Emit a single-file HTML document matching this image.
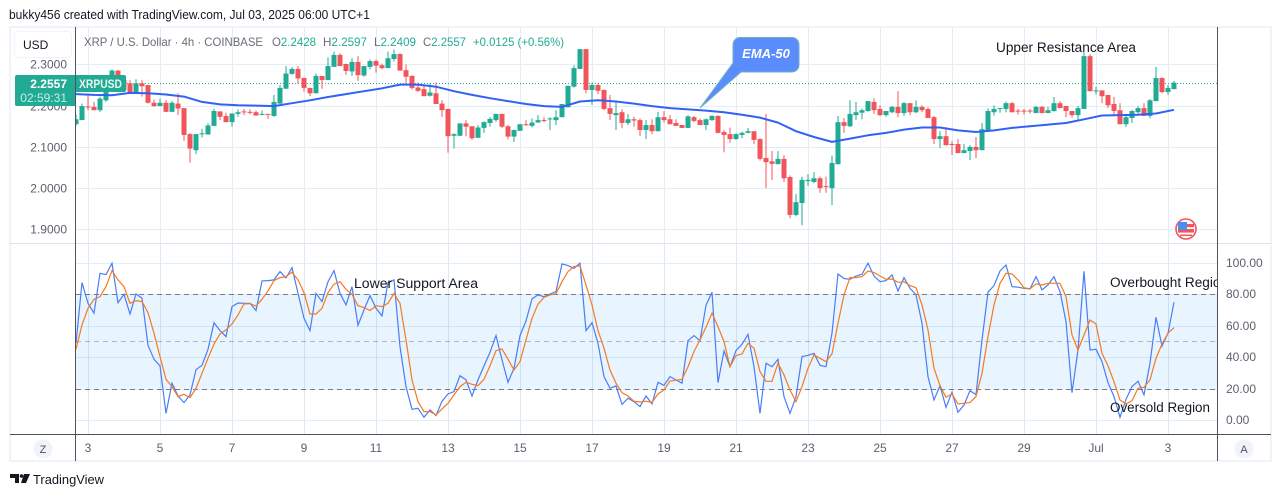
<!DOCTYPE html>
<html>
<head>
<meta charset="utf-8">
<title>XRP / U.S. Dollar 4h chart</title>
<style>
html,body{margin:0;padding:0;background:#fff;width:1281px;height:497px;overflow:hidden}
svg{display:block;font-family:"Liberation Sans",sans-serif}
</style>
</head>
<body>
<svg id="chart" xmlns="http://www.w3.org/2000/svg" width="1281" height="497" viewBox="0 0 1281 497">
  <defs>
    <clipPath id="plot-clip"><rect x="76" y="28" width="1141" height="406"/></clipPath>
  </defs>
  <rect x="0" y="0" width="1281" height="497" fill="#ffffff"/>
  <text x="9" y="19" font-size="12.5" fill="#131722" textLength="361" lengthAdjust="spacingAndGlyphs">bukky456 created with TradingView.com, Jul 03, 2025 06:00 UTC+1</text>
  <rect x="10" y="27" width="1261" height="434" fill="#ffffff" stroke="#f0f3fa" stroke-width="2"/>
  <g id="grid"></g>
  <rect id="osc-band" x="76" width="1141" fill="#2196f3" fill-opacity="0.1"/>
  <g id="osc-refs"></g>
  <line id="last-price-line" x1="76" x2="1217" stroke="#22ab94" stroke-width="1" stroke-dasharray="1 2"/>
  <g id="candles" clip-path="url(#plot-clip)"></g>
  <polyline id="ema-line" clip-path="url(#plot-clip)" fill="none" stroke="#2f62f5" stroke-width="2" stroke-linejoin="round"/>
  <polyline id="k-line" clip-path="url(#plot-clip)" fill="none" stroke="#4a7df5" stroke-width="1.2"/>
  <polyline id="d-line" clip-path="url(#plot-clip)" fill="none" stroke="#f57a20" stroke-width="1.2"/>

  <line x1="10" x2="1271" y1="243.5" y2="243.5" stroke="#e0e3eb" stroke-width="1"/>
  <line x1="10" x2="1271" y1="434.5" y2="434.5" stroke="#50535e" stroke-width="1"/>
  <line x1="75.5" x2="75.5" y1="27" y2="461" stroke="#50535e" stroke-width="1"/>
  <line x1="1217.5" x2="1217.5" y1="27" y2="461" stroke="#50535e" stroke-width="1"/>

  <g id="price-labels"></g>
  <g id="osc-labels"></g>
  <g id="time-labels"></g>

  <g>
    <rect x="14.5" y="31.5" width="57" height="26" rx="4" fill="#ffffff" stroke="#f0f3fa"/>
    <text x="23" y="49" font-size="12" fill="#131722">USD</text>
  </g>

  <g font-size="12">
    <text x="84" y="46" fill="#6a6d78" textLength="179" lengthAdjust="spacingAndGlyphs">XRP / U.S. Dollar · 4h · COINBASE</text>
    <text x="272" y="46" fill="#6a6d78" textLength="44" lengthAdjust="spacingAndGlyphs">O<tspan fill="#22ab94">2.2428</tspan></text>
    <text x="323" y="46" fill="#6a6d78" textLength="44" lengthAdjust="spacingAndGlyphs">H<tspan fill="#22ab94">2.2597</tspan></text>
    <text x="374" y="46" fill="#6a6d78" textLength="42" lengthAdjust="spacingAndGlyphs">L<tspan fill="#22ab94">2.2409</tspan></text>
    <text x="423" y="46" fill="#6a6d78" textLength="43" lengthAdjust="spacingAndGlyphs">C<tspan fill="#22ab94">2.2557</tspan></text>
    <text x="473" y="46" fill="#22ab94" textLength="91" lengthAdjust="spacingAndGlyphs">+0.0125 (+0.56%)</text>
  </g>

  <g>
    <path d="M17 75H75V106H17a2 2 0 0 1-2-2V77a2 2 0 0 1 2-2z" fill="#22ab94"/>
    <path d="M76 75H124a2 2 0 0 1 2 2V90a2 2 0 0 1-2 2H76z" fill="#22ab94"/>
    <text x="67" y="88" font-size="12" font-weight="bold" fill="#ffffff" text-anchor="end">2.2557</text>
    <text x="67" y="102" font-size="12" fill="#c8ece6" text-anchor="end">02:59:31</text>
    <text x="79" y="88" font-size="12" font-weight="bold" fill="#e8f7f4" textLength="43" lengthAdjust="spacingAndGlyphs">XRPUSD</text>
  </g>

  <g>
    <path d="M740 37.5H792a7 7 0 0 1 7 7V65a7 7 0 0 1-7 7H741L700 108L733 63V44.5a7 7 0 0 1 7-7z" fill="#5b8cfb" stroke="#6fb0c4" stroke-width="1"/>
    <text x="766" y="58" font-size="13" font-weight="bold" font-style="italic" fill="#ffffff" text-anchor="middle">EMA-50</text>
  </g>
  <text x="996" y="52" font-size="13.5" fill="#131722" textLength="140" lengthAdjust="spacingAndGlyphs">Upper Resistance Area</text>
  <text x="354" y="288" font-size="13.5" fill="#131722" textLength="124" lengthAdjust="spacingAndGlyphs">Lower Support Area</text>
  <g clip-path="url(#plot-clip)">
    <text x="1110" y="287" font-size="13.5" fill="#131722" textLength="118" lengthAdjust="spacingAndGlyphs">Overbought Region</text>
  </g>
  <text x="1110" y="412" font-size="13.5" fill="#131722" textLength="100" lengthAdjust="spacingAndGlyphs">Oversold Region</text>

  <g>
    <circle cx="1186" cy="229" r="10" fill="#ffffff" stroke="#f0525f" stroke-width="1.6"/>
    <rect x="1178" y="224" width="16" height="3.2" fill="#f2545b"/>
    <rect x="1178" y="229" width="16" height="3.6" fill="#f2545b"/>
    <rect x="1180" y="234.5" width="12" height="1.6" fill="#f2545b"/>
    <rect x="1178" y="222" width="9" height="8" fill="#4a8ff0"/>
  </g>

  <g>
    <circle cx="43" cy="449" r="9.5" fill="#f0f3fa"/>
    <text x="43" y="453" font-size="11" fill="#50535e" text-anchor="middle">Z</text>
  </g>
  <g>
    <circle cx="1244" cy="449" r="9.5" fill="#f0f3fa"/>
    <text x="1244" y="453" font-size="11" fill="#50535e" text-anchor="middle">A</text>
  </g>

  <g>
    <path d="M10 474H19V483H15V478H10z" fill="#131722"/>
    <circle cx="21.5" cy="476" r="1.8" fill="#131722"/>
    <path d="M24 474H30L26 483H21z" fill="#131722"/>
    <text x="33" y="484" font-size="13" fill="#131722" textLength="71" lengthAdjust="spacingAndGlyphs">TradingView</text>
  </g>
</svg>

<script>
const opens = [
2.155,2.165,2.198,2.197,2.189,2.213,2.254,2.285,2.262,2.254,
2.231,2.254,2.250,2.207,2.199,2.207,2.185,2.205,2.194,2.131,
2.092,2.131,2.130,2.151,2.186,2.175,2.160,2.180,2.186,2.185,
2.184,2.178,2.180,2.175,2.205,2.241,2.277,2.289,2.267,2.243,
2.230,2.272,2.262,2.294,2.323,2.301,2.283,2.306,2.273,2.294,
2.308,2.298,2.291,2.313,2.325,2.286,2.272,2.244,2.240,2.224,
2.230,2.205,2.192,2.127,2.127,2.157,2.150,2.122,2.146,2.158,
2.165,2.180,2.150,2.125,2.139,2.155,2.151,2.159,2.165,2.167,
2.165,2.172,2.196,2.246,2.289,2.337,2.238,2.250,2.238,2.194,
2.177,2.184,2.158,2.167,2.165,2.141,2.153,2.138,2.172,2.167,
2.158,2.153,2.146,2.172,2.165,2.153,2.165,2.175,2.136,2.131,
2.119,2.129,2.134,2.138,2.119,2.073,2.065,2.058,2.071,2.027,
1.935,1.964,2.017,2.015,2.024,2.005,2.000,2.058,2.160,2.150,
2.177,2.183,2.187,2.209,2.192,2.177,2.184,2.197,2.182,2.206,
2.184,2.197,2.192,2.172,2.119,2.126,2.107,2.107,2.085,2.090,
2.100,2.092,2.141,2.184,2.192,2.192,2.206,2.188,2.188,2.188,
2.182,2.197,2.182,2.187,2.206,2.199,2.187,2.177,2.192,2.320,
2.235,2.237,2.226,2.204,2.189,2.155,2.170,2.184,2.194,2.175,
2.211,2.267,2.233,2.240];
const highs = [
2.179,2.205,2.226,2.209,2.222,2.274,2.288,2.286,2.266,2.262,
2.264,2.262,2.250,2.215,2.217,2.213,2.211,2.230,2.194,2.133,
2.131,2.144,2.157,2.193,2.186,2.183,2.181,2.191,2.192,2.191,
2.188,2.188,2.180,2.226,2.250,2.296,2.293,2.296,2.268,2.243,
2.278,2.272,2.317,2.331,2.327,2.302,2.315,2.320,2.296,2.312,
2.312,2.302,2.331,2.336,2.327,2.300,2.274,2.256,2.250,2.254,
2.256,2.213,2.193,2.133,2.157,2.165,2.150,2.153,2.162,2.172,
2.180,2.180,2.153,2.142,2.155,2.165,2.169,2.177,2.172,2.172,
2.189,2.204,2.248,2.298,2.337,2.337,2.256,2.254,2.239,2.226,
2.209,2.191,2.180,2.173,2.169,2.165,2.167,2.185,2.187,2.177,
2.167,2.153,2.177,2.175,2.169,2.169,2.177,2.177,2.141,2.147,
2.133,2.137,2.146,2.138,2.121,2.180,2.090,2.090,2.080,2.031,
1.986,2.028,2.034,2.039,2.028,2.028,2.079,2.175,2.170,2.213,
2.209,2.193,2.211,2.218,2.201,2.187,2.199,2.235,2.209,2.206,
2.213,2.201,2.196,2.175,2.138,2.148,2.114,2.119,2.107,2.104,
2.124,2.158,2.193,2.201,2.194,2.210,2.209,2.192,2.192,2.192,
2.199,2.199,2.197,2.221,2.211,2.199,2.187,2.199,2.330,2.325,
2.246,2.237,2.226,2.221,2.206,2.180,2.189,2.199,2.206,2.216,
2.294,2.269,2.250,2.260];
const lows = [
2.151,2.165,2.189,2.189,2.185,2.209,2.250,2.242,2.234,2.228,
2.230,2.222,2.205,2.197,2.199,2.185,2.185,2.177,2.115,2.062,
2.083,2.123,2.130,2.151,2.165,2.160,2.149,2.173,2.177,2.179,
2.176,2.177,2.168,2.173,2.204,2.241,2.275,2.254,2.234,2.223,
2.230,2.241,2.262,2.294,2.296,2.275,2.272,2.260,2.270,2.288,
2.280,2.288,2.291,2.307,2.285,2.254,2.239,2.233,2.223,2.222,
2.204,2.173,2.086,2.096,2.126,2.126,2.117,2.122,2.134,2.149,
2.161,2.146,2.118,2.112,2.139,2.151,2.147,2.159,2.160,2.141,
2.153,2.172,2.196,2.244,2.289,2.230,2.202,2.228,2.189,2.165,
2.141,2.145,2.153,2.149,2.126,2.119,2.131,2.138,2.159,2.155,
2.151,2.146,2.146,2.160,2.153,2.141,2.163,2.133,2.087,2.110,
2.117,2.121,2.133,2.107,2.067,2.000,2.020,2.058,2.015,1.927,
1.932,1.910,2.005,2.012,1.989,1.989,1.959,2.058,2.134,2.148,
2.165,2.167,2.185,2.180,2.175,2.173,2.182,2.172,2.175,2.177,
2.182,2.184,2.170,2.107,2.097,2.104,2.080,2.085,2.085,2.068,
2.073,2.092,2.136,2.176,2.183,2.184,2.184,2.178,2.178,2.181,
2.182,2.182,2.182,2.185,2.194,2.172,2.171,2.163,2.192,2.235,
2.227,2.206,2.194,2.175,2.155,2.148,2.158,2.181,2.175,2.169,
2.211,2.230,2.226,2.240];
const closes = [
2.167,2.199,2.196,2.189,2.217,2.238,2.285,2.254,2.238,2.232,
2.254,2.247,2.207,2.199,2.207,2.185,2.207,2.193,2.129,2.096,
2.131,2.133,2.152,2.187,2.173,2.160,2.181,2.184,2.184,2.184,
2.176,2.180,2.178,2.209,2.243,2.278,2.289,2.266,2.243,2.230,
2.272,2.262,2.296,2.323,2.296,2.284,2.306,2.274,2.296,2.308,
2.297,2.291,2.315,2.325,2.285,2.270,2.243,2.236,2.223,2.232,
2.204,2.189,2.126,2.131,2.157,2.149,2.121,2.147,2.160,2.168,
2.180,2.149,2.125,2.141,2.155,2.153,2.159,2.165,2.163,2.169,
2.172,2.204,2.248,2.291,2.337,2.238,2.250,2.236,2.192,2.180,
2.182,2.158,2.167,2.164,2.141,2.153,2.138,2.172,2.165,2.155,
2.151,2.146,2.174,2.163,2.153,2.167,2.175,2.134,2.129,2.119,
2.131,2.134,2.138,2.117,2.071,2.063,2.059,2.071,2.024,1.935,
1.966,2.020,2.020,2.024,2.000,2.003,2.061,2.160,2.151,2.180,
2.184,2.189,2.211,2.189,2.177,2.187,2.197,2.182,2.206,2.184,
2.197,2.189,2.170,2.119,2.126,2.104,2.105,2.085,2.092,2.100,
2.092,2.143,2.187,2.192,2.194,2.206,2.184,2.186,2.186,2.186,
2.197,2.182,2.189,2.206,2.194,2.187,2.177,2.194,2.320,2.235,
2.237,2.223,2.201,2.187,2.155,2.172,2.187,2.194,2.175,2.213,
2.267,2.233,2.243,2.2557];
const ema50 = [
2.228,2.226,2.225,2.231,2.230,2.227,2.222,2.209,2.203,2.201,
2.200,2.199,2.206,2.213,2.221,2.228,2.235,2.242,2.251,2.251,
2.246,2.235,2.226,2.218,2.211,2.204,2.199,2.197,2.210,2.213,
2.210,2.205,2.199,2.194,2.191,2.188,2.184,2.178,2.171,2.159,
2.138,2.124,2.112,2.120,2.128,2.134,2.142,2.147,2.147,2.140,
2.136,2.140,2.146,2.150,2.154,2.158,2.167,2.176,2.177,2.178,
2.181,2.190];
const emaBarsPerSample = 3;
const stochK = [
48.8,87.3,74.2,67.9,93.2,92.4,99.6,74.6,79.9,67.4,
80.1,77.4,47.6,38.7,34.5,4.4,23.5,15.4,11.2,16.1,
32.1,34.9,45.0,61.9,56.9,53.1,72.1,74.4,74.2,74.2,
69.6,88.4,88.6,89.0,94.3,90.3,96.8,80.5,64.7,56.9,
80.5,75.3,87.9,94.9,80.5,73.2,84.8,60.3,70.0,79.1,
71.0,66.2,87.3,89.0,46.7,21.4,7.0,7.6,1.9,6.6,
3.0,12.1,16.7,18.2,28.3,25.6,15.4,25.6,34.5,43.1,
53.7,38.3,24.1,33.0,53.7,63.0,77.0,79.5,78.4,80.1,
81.6,99.2,98.1,96.4,99.6,56.9,61.9,48.8,27.7,20.3,
21.8,10.1,14.0,11.8,8.7,15.4,10.4,24.1,22.2,27.7,
25.6,23.5,50.5,53.7,50.5,72.9,81.2,23.9,44.0,34.0,
44.2,48.2,54.5,34.0,4.4,36.2,34.0,38.7,15.0,4.4,
15.0,40.4,41.2,42.5,34.9,34.0,55.2,92.8,89.9,89.4,
91.5,92.6,99.6,91.5,87.9,88.6,92.2,82.0,90.5,83.7,
79.5,61.5,27.7,12.9,22.0,8.2,17.8,5.1,9.7,18.8,
16.3,51.0,81.2,85.4,94.7,98.5,84.8,84.4,83.7,83.3,
91.1,82.7,85.8,91.1,81.6,62.6,17.5,44.6,94.5,44.6,
45.0,37.2,23.9,15.0,1.9,13.3,21.4,24.7,16.1,36.2,
65.3,47.1,55.2,74.8];
const stochD = [
45.0,60.5,71.0,76.7,78.4,84.8,94.9,89.0,84.8,74.2,
75.9,75.3,68.3,55.2,40.4,26.0,21.4,15.0,16.5,14.4,
20.3,29.8,39.3,48.4,54.8,57.3,61.1,66.8,73.8,74.0,
72.5,76.7,82.0,88.6,90.5,91.1,93.9,89.0,81.0,67.4,
67.4,71.0,81.0,86.3,87.9,83.1,79.9,72.7,71.5,69.6,
72.7,72.1,74.2,80.5,74.2,51.0,25.6,11.8,5.5,5.5,
3.4,7.2,10.8,16.1,21.4,24.1,22.8,22.0,26.0,34.5,
44.2,45.2,38.7,31.9,37.2,51.0,64.7,73.6,78.0,79.5,
80.3,87.9,94.3,97.5,97.9,85.8,73.2,56.9,45.7,31.9,
23.5,17.5,15.4,12.1,11.6,12.1,11.4,16.7,19.2,24.9,
25.4,26.0,34.0,43.6,51.0,59.0,67.9,59.4,49.9,34.0,
41.0,42.1,48.8,45.7,30.9,24.7,24.7,36.2,28.8,19.2,
11.8,21.4,33.0,41.4,39.3,37.2,42.1,61.5,79.5,90.5,
90.5,91.1,94.7,93.7,91.5,89.4,89.6,87.5,87.9,85.4,
84.1,73.2,57.3,33.0,22.0,14.6,16.7,10.4,10.8,11.2,
15.0,29.8,53.1,73.2,86.9,93.2,92.8,89.0,84.1,83.3,
86.5,85.8,86.9,86.9,86.9,78.4,54.1,44.6,54.1,63.6,
61.1,42.5,34.5,24.5,12.9,10.4,12.5,20.3,20.9,25.6,
39.3,48.4,55.2,58.8];
const priceTicks = [2.3,2.2,2.1,2.0,1.9];
const oscTicks = [100,80,60,40,20,0];
const timeLabels = ["3","5","7","9","11","13","15","17","19","21","23","25","27","29","Jul","3"];
const lastPrice = 2.2557;
const bandUpper = 80;
const bandMiddle = 50;
const bandLower = 20;

const NS = "http://www.w3.org/2000/svg";
const xBar = i => 76 + 6 * i;
const yPrice = p => 64.4 + (2.3 - p) * 412.5;
const yOsc = v => 420.3 - v * 1.577;
const xTimeLabel = k => 88 + 72 * k;

function svgEl(tag, attrs, parent) {
  const el = document.createElementNS(NS, tag);
  for (const k in attrs) el.setAttribute(k, attrs[k]);
  parent.appendChild(el);
  return el;
}

const grid = document.getElementById("grid");
const gridColor = "#e3edf5";
priceTicks.forEach(p => {
  const y = Math.round(yPrice(p)) + 0.5;
  const l = svgEl("line", {x1: 76, x2: 1217, y1: y, y2: y, stroke: gridColor, "stroke-width": 1}, grid);
  
  
  const t = svgEl("text", {x: 67, y: y + 4, "font-size": 12, fill: "#5d606b", "text-anchor": "end"}, document.getElementById("price-labels"));
  t.textContent = p.toFixed(4);
  
  
});
oscTicks.forEach(v => {
  const y = Math.round(yOsc(v)) + 0.5;
  const l = svgEl("line", {x1: 76, x2: 1217, y1: y, y2: y, stroke: gridColor, "stroke-width": 1}, grid);
  
  
  const t = svgEl("text", {x: 1226, y: y + 3.5, "font-size": 12, fill: "#5d606b"}, document.getElementById("osc-labels"));
  t.textContent = v.toFixed(2);
  
  
});
timeLabels.forEach((lab, k) => {
  const x = xTimeLabel(k) + 0.5;
  const l = svgEl("line", {x1: x, x2: x, y1: 28, y2: 243, stroke: gridColor, "stroke-width": 1}, grid);
  
  
  const l2 = svgEl("line", {x1: x, x2: x, y1: 244, y2: 434, stroke: "#dce9f4", "stroke-width": 1}, grid);
  
  
  const t = svgEl("text", {x: x - 0.5, y: 452, "font-size": 12, fill: "#5d606b", "text-anchor": "middle"}, document.getElementById("time-labels"));
  t.textContent = lab;
  
  
});

const band = document.getElementById("osc-band");
band.setAttribute("y", yOsc(bandUpper));
band.setAttribute("height", yOsc(bandLower) - yOsc(bandUpper));
[[bandUpper, "#787b86"], [bandMiddle, "#b2b5be"], [bandLower, "#787b86"]].forEach(r => {
  const y = Math.round(yOsc(r[0])) + 0.5;
  const l = svgEl("line", {x1: 76, x2: 1217, y1: y, y2: y, stroke: r[1], "stroke-width": 1, "stroke-dasharray": "5 4"}, document.getElementById("osc-refs"));
  
  
});

const lp = document.getElementById("last-price-line");
lp.setAttribute("y1", Math.round(yPrice(lastPrice)) + 0.5);
lp.setAttribute("y2", Math.round(yPrice(lastPrice)) + 0.5);

const candleGroup = document.getElementById("candles");
opens.forEach((o, i) => {
  const c = closes[i];
  const up = c >= o;
  const color = up ? "#22ab94" : "#f2545b";
  const x = xBar(i);
  const g = svgEl("g", {}, candleGroup);
  
  
  svgEl("rect", {x: x - 0.5, y: yPrice(highs[i]), width: 1, height: Math.max(1, yPrice(lows[i]) - yPrice(highs[i])), fill: color}, g);
  const top = yPrice(Math.max(o, c));
  const h = Math.max(1, Math.abs(yPrice(o) - yPrice(c)));
  svgEl("rect", {x: x - 2.5, y: top, width: 5, height: h, fill: color}, g);
});

document.getElementById("ema-line").setAttribute("points",
  ema50.map((v, k) => xBar(k * emaBarsPerSample) + "," + yPrice(v).toFixed(1)).join(" "));
document.getElementById("k-line").setAttribute("points",
  stochK.map((v, i) => xBar(i) + "," + yOsc(v).toFixed(1)).join(" "));
document.getElementById("d-line").setAttribute("points",
  stochD.map((v, i) => xBar(i) + "," + yOsc(v).toFixed(1)).join(" "));
</script>
</body>
</html>
